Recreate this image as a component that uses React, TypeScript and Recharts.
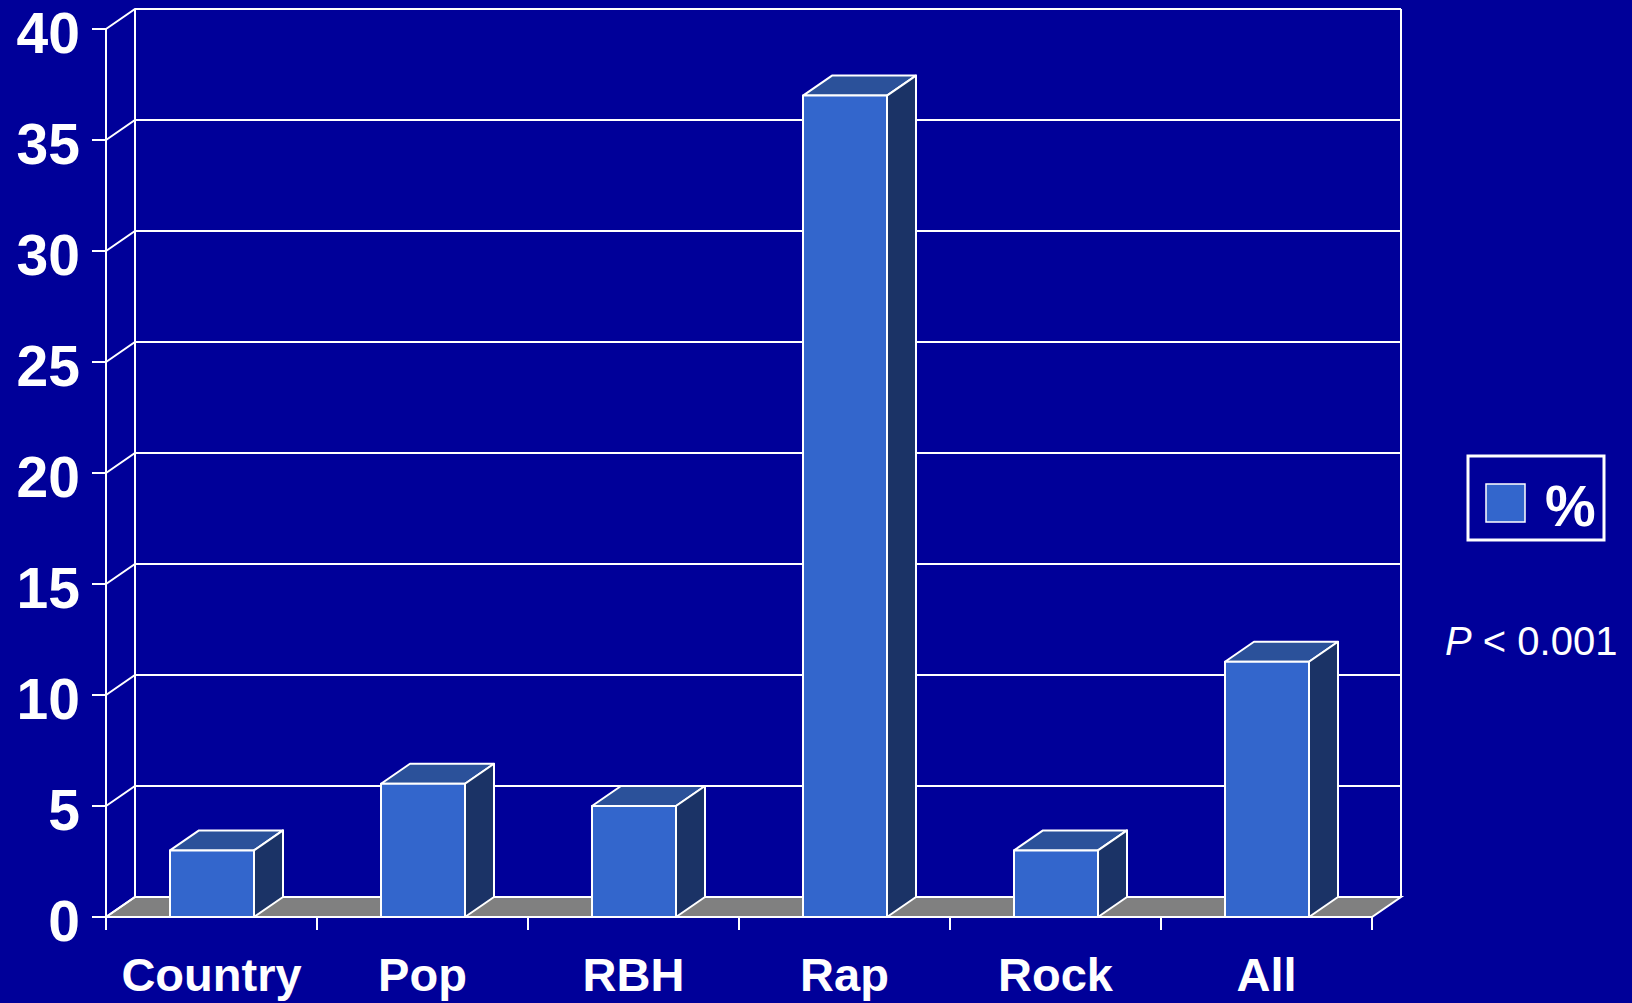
import { BarChart, Bar, XAxis, YAxis, CartesianGrid, Legend } from 'recharts';

// values
const categories = ['Country', 'Pop', 'RBH', 'Rap', 'Rock', 'All'];
const percentValues = [3, 6, 5, 37, 3, 11.5];
const yTicks = [0, 5, 10, 15, 20, 25, 30, 35, 40];

const data = categories.map((name, i) => ({ name, pct: percentValues[i] }));

const BG = '#000099';
const FRONT = '#3366CC';
const TOP = '#2B519A';
const SIDE = '#1B3366';
const FLOOR = '#808080';
const FONT = '"Liberation Sans", Arial, Helvetica, sans-serif';
// depth of the 3D box
const DX = 29;
const DY = 20;
// fallback plot edges, used only if the grid does not hand them over
const PLOT_LEFT = 106;
const PLOT_RIGHT = 1372;
const PLOT_BOTTOM = 917;

/**
 * Bar drawn as a box: front face, top and right side
 */
function Bar3D(props: any) {
  const { x, y, width: w, height: h } = props;
  if (h == null || w == null) return null;
  return (
    <g stroke="#fff" strokeWidth={2} strokeLinejoin="round">
      <polygon points={`${x},${y} ${x + DX},${y - DY} ${x + w + DX},${y - DY} ${x + w},${y}`} fill={TOP} />
      <polygon
        points={`${x + w},${y} ${x + w + DX},${y - DY} ${x + w + DX},${y + h - DY} ${x + w},${y + h}`}
        fill={SIDE}
      />
      <rect x={x} y={y} width={w} height={h} fill={FRONT} />
    </g>
  );
}

/**
 * Grid line on the back wall, joined to the front axis by a diagonal
 * on the left wall. The zero line also draws the grey floor.
 */
function BackGridLine(props: any) {
  const { x1, x2, y1, index } = props;
  const bottom = props.y != null && props.height != null ? props.y + props.height : PLOT_BOTTOM;
  const isFloor = Math.abs(y1 - bottom) < 1;
  return (
    <g key={`hl-${index}`}>
      {isFloor && (
        <polygon
          points={`${x1},${y1} ${x2},${y1} ${x2 + DX},${y1 - DY} ${x1 + DX},${y1 - DY}`}
          fill={FLOOR}
          stroke="#fff"
          strokeWidth={2}
        />
      )}
      <polyline
        points={`${x1},${y1} ${x1 + DX},${y1 - DY} ${x2 + DX},${y1 - DY}`}
        fill="none"
        stroke="#fff"
        strokeWidth={2}
      />
    </g>
  );
}

// left and right edges of the back wall (category centre lines are skipped)
function BackWallEdge(props: any) {
  const { x1, y1, y2, index } = props;
  const left = props.x != null ? props.x : PLOT_LEFT;
  const right = props.x != null && props.width != null ? props.x + props.width : PLOT_RIGHT;
  if (Math.abs(x1 - left) > 1 && Math.abs(x1 - right) > 1) return <g key={`vl-${index}`} />;
  return (
    <line
      key={`vl-${index}`}
      x1={x1 + DX}
      y1={y1 - DY}
      x2={x1 + DX}
      y2={y2 - DY}
      stroke="#fff"
      strokeWidth={2}
    />
  );
}

function YTick(props: any) {
  const { x, y, payload } = props;
  return (
    <text x={x} y={y + 24} textAnchor="end" fill="#fff" fontFamily={FONT} fontWeight="bold" fontSize={57}>
      {payload.value}
    </text>
  );
}

/**
 * Category label, plus the tick marks that sit on the category boundaries
 */
function XTick(props: any) {
  const { x, y, payload, index, visibleTicksCount } = props;
  const half = payload.offset ?? 0;
  const isLast = index === (visibleTicksCount ?? categories.length) - 1;
  return (
    <g>
      <line x1={x - half} y1={y} x2={x - half} y2={y + 13} stroke="#fff" strokeWidth={2} />
      {isLast && <line x1={x + half} y1={y} x2={x + half} y2={y + 13} stroke="#fff" strokeWidth={2} />}
      <text x={x} y={y + 74} textAnchor="middle" fill="#fff" fontFamily={FONT} fontWeight="bold" fontSize={47}>
        {payload.value}
      </text>
    </g>
  );
}

function LegendBox() {
  return (
    <svg width={180} height={215} style={{ display: 'block', overflow: 'visible' }}>
      <rect x={23} y={6} width={136} height={84} fill="none" stroke="#fff" strokeWidth={3} />
      <rect x={41} y={34} width={39} height={38} fill={FRONT} stroke="#fff" strokeWidth={1.5} />
      <text x={100} y={76} fill="#fff" fontFamily={FONT} fontWeight="bold" fontSize={57}>
        %
      </text>
      <text x={0} y={205} fill="#fff" fontFamily={FONT} fontSize={40}>
        <tspan fontStyle="italic">P</tspan> &lt; 0.001
      </text>
    </svg>
  );
}

export default function App() {
  return (
    <div style={{ width: 1632, height: 1003, background: BG, position: 'relative' }}>
      <style>{'body{margin:0;background:' + BG + ';}'}</style>
      <BarChart
        width={1632}
        height={1003}
        data={data}
        margin={{ top: 29, right: 260, left: 0, bottom: 0 }}
        barSize={84}
      >
        <CartesianGrid horizontal={BackGridLine} vertical={BackWallEdge} />
        <XAxis
          dataKey="name"
          height={86}
          interval={0}
          axisLine={{ stroke: '#fff', strokeWidth: 2 }}
          tickLine={false}
          tickSize={0}
          tickMargin={0}
          tick={<XTick />}
        />
        <YAxis
          width={106}
          domain={[0, 40]}
          ticks={yTicks}
          interval={0}
          tickSize={14}
          tickMargin={12}
          axisLine={{ stroke: '#fff', strokeWidth: 2 }}
          tickLine={{ stroke: '#fff', strokeWidth: 2 }}
          tick={<YTick />}
        />
        <Legend
          layout="horizontal"
          align="center"
          verticalAlign="middle"
          wrapperStyle={{ position: 'absolute', left: 1445, top: 450, width: 180, height: 215 }}
          content={() => <LegendBox />}
        />
        <Bar dataKey="pct" name="%" shape={<Bar3D />} isAnimationActive={false} />
      </BarChart>
    </div>
  );
}
